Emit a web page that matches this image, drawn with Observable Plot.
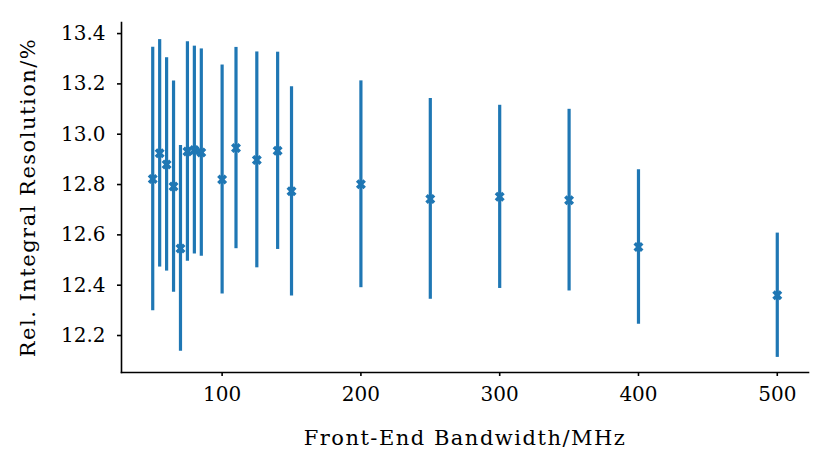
<!DOCTYPE html>
<html>
<head>
<meta charset="utf-8">
<script src="https://cdn.jsdelivr.net/npm/d3@7"></script>
<script src="https://cdn.jsdelivr.net/npm/@observablehq/plot@0.6"></script>
<style>
  html, body { margin: 0; padding: 0; background: #fff; }
  g[aria-label="x-axis label"] text, g[aria-label="y-axis label"] text { font-size: 21px; letter-spacing: 1.5px; }
</style>
</head>
<body>
<div id="chart"></div>
<script>
const bandwidth = [50, 55, 60, 65, 70, 75, 80, 85, 100, 110, 125, 140, 150, 200, 250, 300, 350, 400, 500];
const resolution = [12.822, 12.924, 12.880, 12.792, 12.546, 12.931, 12.937, 12.927, 12.820, 12.945, 12.898, 12.934, 12.773, 12.801, 12.743, 12.751, 12.738, 12.552, 12.360];
const resError = [0.524, 0.452, 0.424, 0.420, 0.409, 0.436, 0.413, 0.412, 0.455, 0.400, 0.429, 0.392, 0.416, 0.411, 0.399, 0.364, 0.361, 0.307, 0.247];
const xTicks = [100, 200, 300, 400, 500];
const yTicks = [12.2, 12.4, 12.6, 12.8, 13.0, 13.2, 13.4];
const xLabel = "Front-End Bandwidth/MHz";
const yLabel = "Rel. Integral Resolution/%";

const data = bandwidth.map((b, i) => ({bw: b, res: resolution[i], err: resError[i]}));

// filled "X" marker (matplotlib style)
const xFilled = {
  draw(context, size) {
    const r = Math.sqrt(size / Math.PI);
    const s = r / 2;
    const pts = [[-1, -2], [0, -1], [1, -2], [2, -1], [1, 0], [2, 1], [1, 2], [0, 1], [-1, 2], [-2, 1], [-1, 0], [-2, -1]];
    context.moveTo(pts[0][0] * s, pts[0][1] * s);
    for (let k = 1; k < pts.length; k++) context.lineTo(pts[k][0] * s, pts[k][1] * s);
    context.closePath();
  }
};

const color = "#1f77b4";

const chart = Plot.plot({
  width: 830,
  height: 465,
  marginLeft: 121,
  marginTop: 22,
  marginRight: 22,
  marginBottom: 93,
  style: {fontFamily: "'DejaVu Serif', serif", fontSize: "20px", color: "#000", background: "#fff", overflow: "visible"},
  x: {domain: [27.5, 522.5]},
  y: {domain: [12.053, 13.444]},
  marks: [
    Plot.frame({anchor: "left", stroke: "#000", strokeWidth: 1.6}),
    Plot.frame({anchor: "bottom", stroke: "#000", strokeWidth: 1.6}),
    Plot.axisX({ticks: xTicks, tickSize: 4, tickPadding: 10, strokeWidth: 1.6, label: xLabel, labelAnchor: "center", labelOffset: 72, labelArrow: "none"}),
    Plot.axisY({ticks: yTicks, tickSize: 4, tickPadding: 12, strokeWidth: 1.6, tickFormat: d3.format(".1f"), label: yLabel, labelAnchor: "center", labelOffset: 101, labelArrow: "none"}),
    Plot.ruleX(data, {x: "bw", y1: d => d.res - d.err, y2: d => d.res + d.err, stroke: color, strokeWidth: 3.2}),
    Plot.dot(data, {x: "bw", y: "res", symbol: xFilled, r: 5, fill: color, stroke: null})
  ]
});
document.getElementById("chart").appendChild(chart);
</script>
</body>
</html>
